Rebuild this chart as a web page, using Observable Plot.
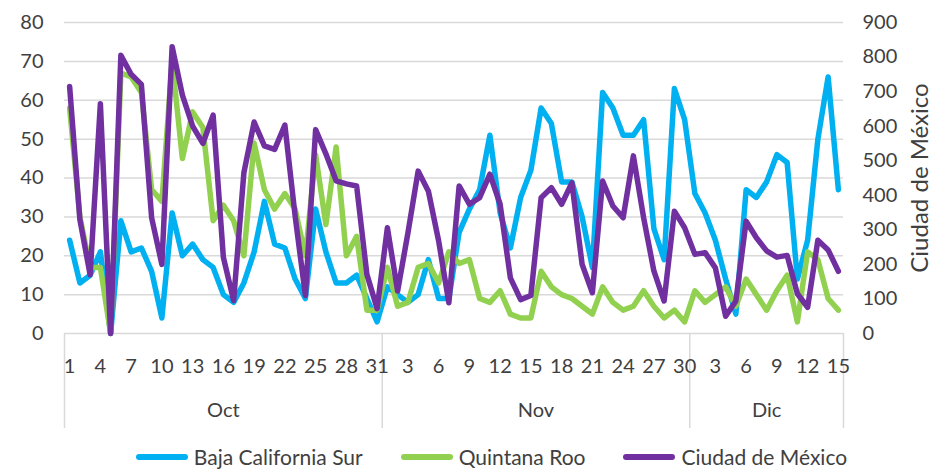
<!DOCTYPE html>
<html>
<head>
<meta charset="utf-8">
<script src="https://cdn.jsdelivr.net/npm/d3@7"></script>
<script src="https://cdn.jsdelivr.net/npm/@observablehq/plot@0.6"></script>
<style>
  html, body { margin: 0; padding: 0; background: #fff; }
  #wrap { width: 937px; height: 472px; position: relative; overflow: hidden; font-family: Lato, sans-serif; color: #404040; }
  #legend { position: absolute; left: 0; width: 937px; top: 446px; height: 22px; line-height: 22px; display: flex; justify-content: center; align-items: center; font-size: 21px; padding-left: 46px; box-sizing: border-box; }
  .item { display: flex; align-items: center; margin: 0 19px; }
  .sw { width: 52px; height: 6px; border-radius: 3px; margin-right: 6px; }
</style>
</head>
<body>
<div id="wrap"><div id="chart"></div><div id="legend"></div></div>
<script>
// ---- data ----
const monthNames = ["Oct", "Nov", "Dic"];
const monthLengths = [31, 30, 15];
const dayOfMonth = [
  1,2,3,4,5,6,7,8,9,10,11,12,13,14,15,16,17,18,19,20,21,22,23,24,25,26,27,28,29,30,31,
  1,2,3,4,5,6,7,8,9,10,11,12,13,14,15,16,17,18,19,20,21,22,23,24,25,26,27,28,29,30,
  1,2,3,4,5,6,7,8,9,10,11,12,13,14,15
];
const seriesNames = ["Baja California Sur", "Quintana Roo", "Ciudad de México"];
const seriesColors = ["#00b0f0", "#92d050", "#7030a0"];
const bajaCaliforniaSur = [
  24,13,15,21,0,29,21,22,16,4,31,20,23,19,17,10,8,13,21,34,23,22,14,9,32,21,13,13,15,9,3,
  12,10,8,10,19,9,9,26,32,37,51,31,22,35,42,58,54,39,39,30,17,62,58,51,51,55,27,19,63,55,
  36,31,24,14,5,37,35,39,46,44,14,24,50,66,37
];
const quintanaRoo = [
  58,30,17,17,0,67,66,62,37,34,70,45,57,53,29,33,29,20,49,37,32,36,32,20,46,28,48,20,25,6,6,
  17,7,8,17,18,13,21,18,19,9,8,11,5,4,4,16,12,10,9,7,5,12,8,6,7,11,7,4,6,3,
  11,8,10,12,7,14,10,6,11,15,3,21,19,9,6
];
const ciudadDeMexico = [
  715,330,170,665,0,805,750,721,335,200,830,690,600,550,632,220,95,465,612,543,533,603,340,110,590,520,442,433,427,171,72,
  306,123,290,470,412,268,89,427,374,393,461,374,161,98,110,393,422,374,436,200,118,441,369,335,514,335,181,94,354,306,
  229,234,190,50,94,325,277,239,221,226,115,76,270,242,180
];
const leftTicks = [0, 10, 20, 30, 40, 50, 60, 70, 80];
const rightTicks = [0, 100, 200, 300, 400, 500, 600, 700, 800, 900];
const rightAxisTitle = "Ciudad de México";

// ---- derived ----
const k = 80 / 900; // secondary axis -> primary axis
const rows = bajaCaliforniaSur.map((v, i) => ({
  i, bcs: v, qroo: quintanaRoo[i], cdmx: ciudadDeMexico[i]
}));
const n = rows.length;
const xTicks = d3.range(0, n, 3);
let acc = 0;
const boundaries = [-0.5];
const months = monthNames.map((name, j) => {
  const start = acc; acc += monthLengths[j];
  boundaries.push(acc - 0.5);
  return {name, mid: (start + acc - 1) / 2};
});

const font = "Lato, sans-serif";
const grid = "#d9d9d9";

const plot = Plot.plot({
  width: 937,
  height: 440,
  marginLeft: 64,
  marginRight: 94,
  marginTop: 22,
  marginBottom: 107,
  style: {fontFamily: font, fontSize: "20px", color: "#404040", background: "#fff", overflow: "visible"},
  x: {type: "linear", domain: [-0.5, n - 0.5]},
  y: {domain: [0, 80]},
  marks: [
    Plot.ruleY(leftTicks, {stroke: grid, strokeWidth: 1.5}),
    Plot.axisX(boundaries, {tickSize: 95, stroke: grid, strokeWidth: 1.5, strokeOpacity: 1, tickFormat: () => "", label: null}),
    Plot.axisX(xTicks, {tickSize: 0, tickPadding: 25, tickFormat: i => dayOfMonth[i], fontSize: 20, label: null}),
    Plot.text(months, {x: "mid", text: "name", frameAnchor: "bottom", dy: 83, fontSize: 20, fill: "#404040"}),
    Plot.axisY(leftTicks, {anchor: "left", tickSize: 0, tickPadding: 21, fontSize: 20, label: null}),
    Plot.axisY(rightTicks.map(v => v * k), {
      anchor: "right", tickSize: 0, tickPadding: 19, fontSize: 20,
      tickFormat: d => Math.round(d / k),
      label: rightAxisTitle, labelAnchor: "center", labelArrow: "none", labelOffset: 84
    }),
    Plot.line(rows, {x: "i", y: "bcs", stroke: seriesColors[0], strokeWidth: 5.5, strokeLinejoin: "round", strokeLinecap: "round"}),
    Plot.line(rows, {x: "i", y: "qroo", stroke: seriesColors[1], strokeWidth: 5.5, strokeLinejoin: "round", strokeLinecap: "round"}),
    Plot.line(rows, {x: "i", y: d => d.cdmx * k, stroke: seriesColors[2], strokeWidth: 5.5, strokeLinejoin: "round", strokeLinecap: "round"})
  ]
});
d3.select(plot).selectAll('g[aria-label="y-axis label"] text').style("font-size", "24px");
document.getElementById("chart").appendChild(plot);

const legend = document.getElementById("legend");
seriesNames.forEach((name, j) => {
  const it = document.createElement("div");
  it.className = "item";
  const sw = document.createElement("div");
  sw.className = "sw";
  sw.style.background = seriesColors[j];
  const tx = document.createElement("span");
  tx.textContent = name;
  it.appendChild(sw); it.appendChild(tx);
  legend.appendChild(it);
});
</script>
</body>
</html>
